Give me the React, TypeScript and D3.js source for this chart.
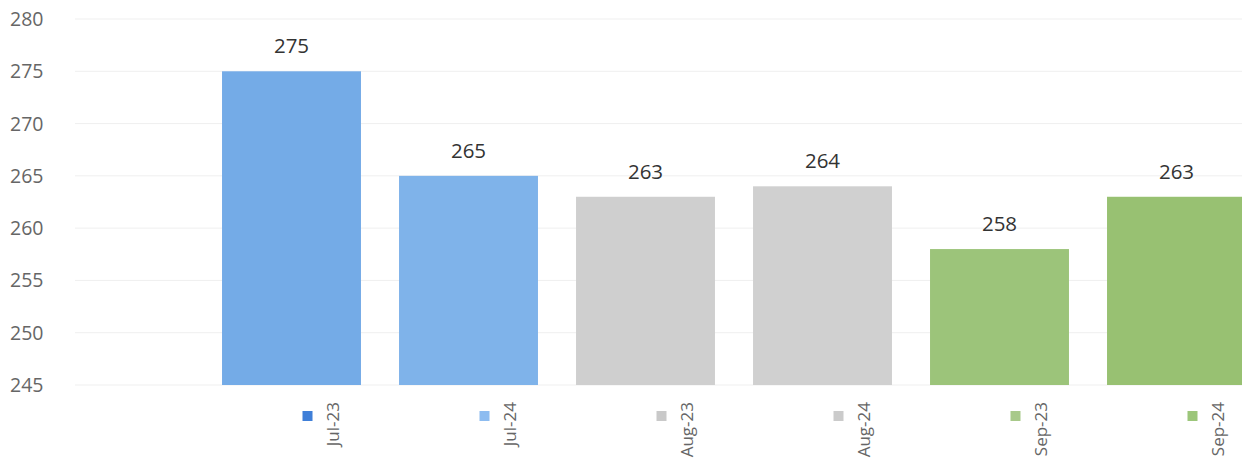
import React from "react";
import * as d3 from "d3";

const categories = ["Jul-23", "Jul-24", "Aug-23", "Aug-24", "Sep-23", "Sep-24"];
const values = [275, 265, 263, 264, 258, 263];
const barColors = ["#74abe7", "#7fb3ea", "#cfcfcf", "#d0d0d0", "#9cc47a", "#98c172"];
const legendColors = ["#3f7fd8", "#8dbcf0", "#c9c9c9", "#cbcbcb", "#a8c98a", "#9cc67a"];
const yTicks = [245, 250, 255, 260, 265, 270, 275, 280];

const W = 1242;
const H = 467;

export default function App() {
  const y = d3.scaleLinear().domain([245, 280]).range([385, 19]);
  const x = d3
    .scaleBand<string>()
    .domain(categories)
    .range([203, 203 + 6 * 177])
    .paddingInner(0.215)
    .paddingOuter(0.1075);
  const font = "'Open Sans', 'Noto Sans', sans-serif";
  return (
    <svg
      width={W}
      height={H}
      style={{ position: "absolute", left: 0, top: 0, background: "#fff" }}
      fontFamily={font}
    >
      {yTicks.map((t) => (
        <g key={t}>
          <line x1={75} x2={W} y1={y(t)} y2={y(t)} stroke="#efefef" strokeWidth={1} />
          <text x={10} y={y(t)} dy="0.36em" fontSize={19.5} fill="#666">
            {t}
          </text>
        </g>
      ))}
      {categories.map((c, i) => {
        const bx = x(c)!;
        const bw = x.bandwidth();
        const cx = bx + bw / 2;
        return (
          <g key={c}>
            <rect x={bx} y={y(values[i])} width={bw} height={y(245) - y(values[i])} fill={barColors[i]} />
            <text x={cx} y={y(values[i]) - 18} textAnchor="middle" fontSize={20.5} fill="#333">
              {values[i]}
            </text>
            <rect x={cx + 11} y={411} width={10} height={10} fill={legendColors[i]} />
            <text
              transform={`translate(${cx + 47},${402}) rotate(-90)`}
              textAnchor="end"
              fontSize={17}
              fill="#666"
            >
              {c}
            </text>
          </g>
        );
      })}
    </svg>
  );
}
